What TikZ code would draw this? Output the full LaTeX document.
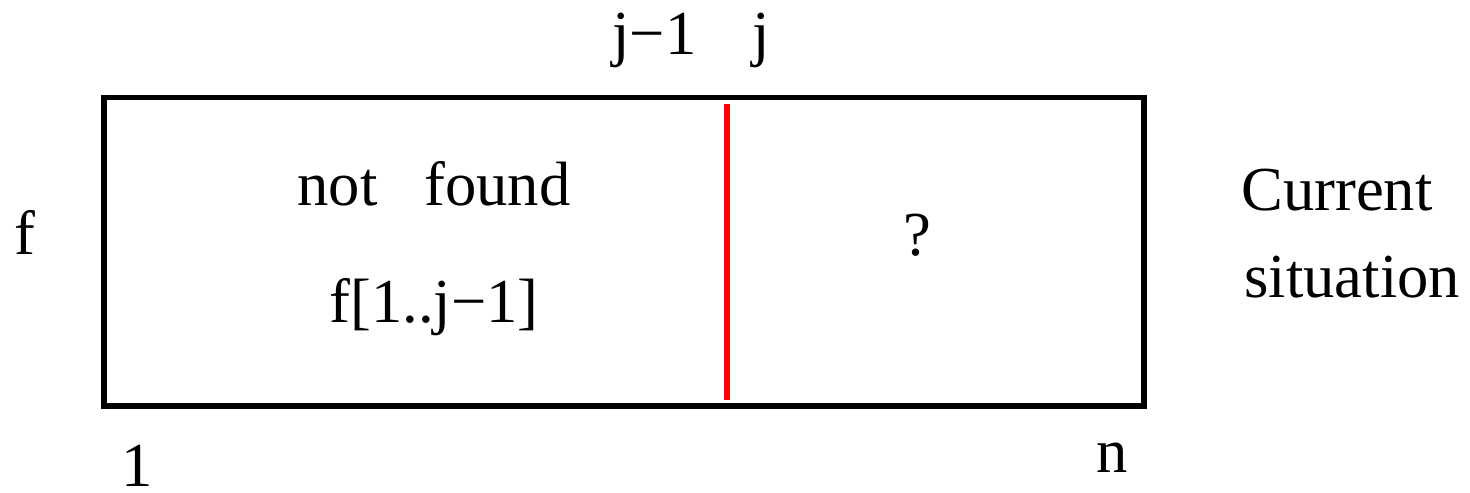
\documentclass[tikz,border=0pt]{standalone}
\usepackage{fontspec}
\setmainfont{Liberation Serif}

\begin{document}
\begin{tikzpicture}[x=0.5pt,y=-0.5pt,
		every node/.style={font=\fontsize{31.3}{36}\selectfont,inner sep=0pt}]
			\useasboundingbox (0,0) rectangle (1470,492);
			\draw[line width=2.8pt] (104,97.5) coordinate (box nw) rectangle (1144,406) coordinate (box se);
			\coordinate (cut top) at (727,104);
			\coordinate (cut bot) at (727,400);
			\draw[red,line width=2.8pt] (cut top) -- (cut bot);
			\node[anchor=base west] (jprev) at (612,55) {j−1};
			\node[anchor=base west] (jcur) at (752,55) {j};
			\node[anchor=base west] (farr) at (14,254) {f};
			\node[anchor=base west] (notfound) at (297,205) {not\ \ \ found};
			\node[anchor=base west] (prefix) at (329,322) {f[1..j−1]};
			\node[anchor=base] (unknown) at (917,255) {?};
			\node[anchor=base west] (current) at (1241,210) {Current};
			\node[anchor=base west] (situation) at (1244,297) {situation};
			\node[anchor=base west] (first) at (121,486) {1};
			\node[anchor=base west] (last) at (1096,472) {n};
		\end{tikzpicture}
\end{document}
